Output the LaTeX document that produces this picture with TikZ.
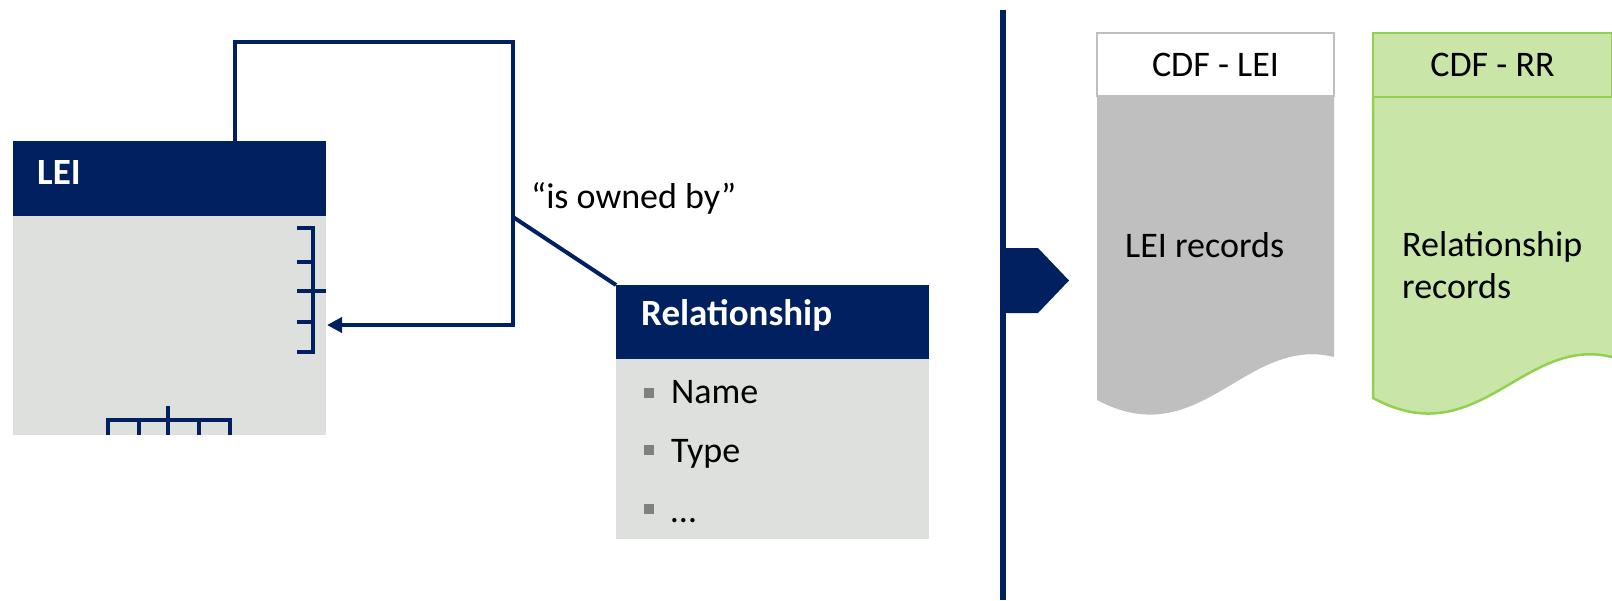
\documentclass[tikz,border=0pt]{standalone}
\usepackage{fontspec}
\setmainfont{Carlito}
\usetikzlibrary{arrows.meta}
\definecolor{navy}{HTML}{002060}
\definecolor{boxgray}{HTML}{DEE0DD}
\definecolor{dotgray}{HTML}{808080}
\definecolor{docgray}{HTML}{BFBFBF}
\definecolor{rrfill}{HTML}{C9E6A8}
\definecolor{rrline}{HTML}{92D050}

\begin{document}
\begin{tikzpicture}[x=1pt,y=-1pt,
  headbox/.style={fill=navy, minimum width=313pt, inner sep=0pt, anchor=north west},
  bodybox/.style={fill=boxgray, minimum width=313pt, inner sep=0pt, anchor=north west},
  title/.style={font=\bfseries\fontsize{37}{44}\selectfont, text=white, inner sep=0pt, anchor=base west},
  item/.style={font=\fontsize{36}{43}\selectfont, inner sep=0pt, anchor=base west},
  bullet/.style={fill=dotgray, minimum size=10pt, inner sep=0pt},
  foot/.style={navy, line width=4.5pt},
  link/.style={navy, line width=4pt},
  cdfhead/.style={font=\fontsize{36}{43}\selectfont, minimum width=237pt, minimum height=63pt, inner sep=0pt}]
  \useasboundingbox (0,0) rectangle (1612,600);

  \node[headbox, minimum height=75pt] (leihead) at (13,141) {};
  \node[bodybox, minimum height=219pt] (leibody) at (13,216) {};
  \node[title] (leiname) at (37,184) {LEI};

  \draw[foot] (297,228) -| (313,352) -- (297,352);
  \draw[foot] (297,262) -- (313,262);
  \draw[foot] (297,322) -- (313,322);
  \draw[foot] (297,291) -- (326,291);
  \draw[foot] (108,435) |- (230,420) -- (230,435);
  \draw[foot] (139,420) -- (139,435);
  \draw[foot] (199,420) -- (199,435);
  \draw[foot] (168,406) -- (168,435);

  \node[headbox, minimum height=74pt] (relhead) at (616,285) {};
  \node[bodybox, minimum height=180pt] (relbody) at (616,359) {};
  \node[title] (relname) at (641,325) {Relationship};
  \node[bullet] (dot1) at (648.5,392.5) {};
  \node[bullet] (dot2) at (648.5,449.5) {};
  \node[bullet] (dot3) at (648.5,508.5) {};
  \node[item] (name) at (671,403) {Name};
  \node[item] (type) at (671,462) {Type};
  \node[item] (more) at (671,522) {…};

  \coordinate (selfout) at (235,141);
  \coordinate (selfin) at (327,325);
  \coordinate (owner) at (513,217);
  \draw[link, -{Triangle[length=15pt,width=15pt]}] (selfout) -- (235,42) -- (513,42) -- (513,325) -- (selfin);
  \draw[link] (owner) -- (relhead.north west);
  \node[item] (owned) at (531,208) {“is owned by”};

  \draw[navy, line width=5.5pt] (1003,10) -- (1003,600);
  \fill[navy] (1003,248) -- (1038,248) -- (1069,280.5) -- (1038,313) -- (1003,313) -- cycle;

  \fill[docgray] (1097,96) -- (1334,96) -- (1334,357) .. controls (1245,335) and (1200,455) .. (1097,400) -- cycle;
  \node[cdfhead, draw=docgray, line width=2pt, fill=white] (leidoc) at (1215.5,64.5) {CDF - LEI};
  \node[item] (leirec) at (1125,257) {LEI records};

  \fill[rrfill] (1373,97) -- (1612,97) -- (1612,357) .. controls (1523,335) and (1478,455) .. (1373,398) -- cycle;
  \draw[rrline, line width=2.5pt] (1612,357) .. controls (1523,335) and (1478,455) .. (1373,398) -- (1373,97);
  \node[cdfhead, draw=rrline, line width=2.5pt, fill=rrfill, minimum width=239pt, minimum height=64pt] (rrdoc) at (1492.5,65) {CDF - RR};
  \node[item] (relrec) at (1402,256) {Relationship};
  \node[item] (relrec2) at (1402,298) {records};
\end{tikzpicture}
\end{document}
